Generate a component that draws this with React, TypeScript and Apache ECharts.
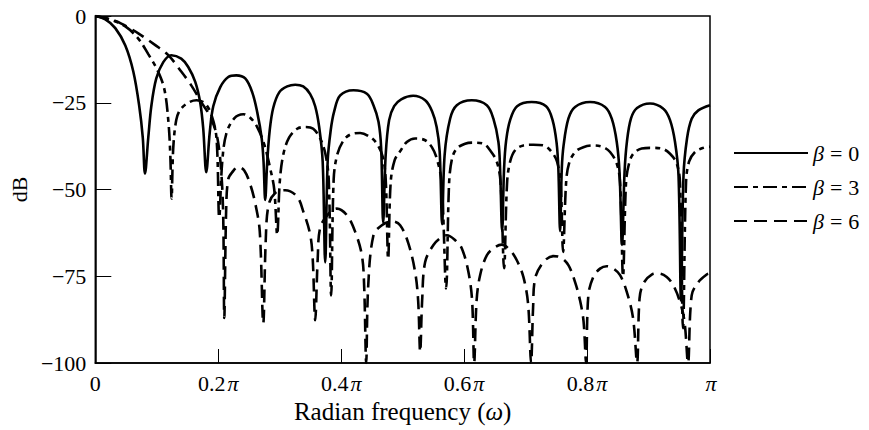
import React, { useEffect, useRef } from 'react';
import * as echarts from 'echarts';

// Log-magnitude responses of three Kaiser windows (frequency in units of π, magnitude in dB)

// β = 0 (rectangular)
const beta0Freq = [
  0, 0.0163, 0.0325, 0.0488, 0.0618, 0.0715, 0.0772, 0.0808,
  0.0862, 0.0911, 0.0992, 0.1106, 0.1236, 0.1398, 0.1512, 0.1626, 0.1707, 0.1756, 0.1805,
  0.1862, 0.1919, 0.2033, 0.2163, 0.2293, 0.2439, 0.2553, 0.2634, 0.2707, 0.2737, 0.2764,
  0.2797, 0.2837, 0.2894, 0.2992, 0.3122, 0.3252, 0.3382, 0.3496, 0.3577, 0.3642, 0.3699, 0.374,
  0.378, 0.3829, 0.3886, 0.3984, 0.42, 0.4418, 0.4525, 0.4607, 0.465, 0.4683,
  0.4724, 0.478, 0.4862, 0.4976, 0.5171, 0.5366, 0.548, 0.5553, 0.5602, 0.5642,
  0.5683, 0.5772, 0.5881, 0.6125, 0.6369, 0.6476, 0.6558, 0.6585, 0.6618,
  0.665, 0.6683, 0.6748, 0.6862, 0.7098, 0.7333, 0.7439, 0.7504, 0.7533, 0.7561,
  0.7589, 0.7618, 0.7696, 0.7805, 0.8049, 0.8293, 0.8402, 0.8483, 0.8528, 0.8569,
  0.861, 0.865, 0.8715, 0.8813, 0.9024, 0.9241, 0.935, 0.9431, 0.9488, 0.9528,
  0.9569, 0.9626, 0.9702, 0.981, 1,
];
const beta0Db = [
  0, -1, -3.5, -8.5, -16, -26, -35, -45.4,
  -35, -26, -18, -13.3, -11.3, -12.3, -14.7, -19, -25, -32.5, -45,
  -33.5, -26, -20.5, -17.6, -17.1, -18, -22, -27.7, -35.3, -42, -53,
  -42, -33, -26.5, -22, -20.3, -19.8, -20.3, -22.5, -26, -32, -42, -71,
  -42, -33, -27.5, -22.9, -21.4, -22.4, -25.7, -30.5, -38, -59.5,
  -40, -30, -26, -24, -23, -24.3, -27.5, -32, -39, -60,
  -40, -29.6, -25.7, -24.3, -25.7, -29.6, -36.3, -44, -62,
  -44, -36, -30, -26, -24.8, -26, -30, -36.5, -44, -62,
  -44, -37.3, -29.6, -26.2, -24.8, -26.2, -29.6, -36.3, -45, -66,
  -45, -36, -29.5, -26.5, -25.2, -26.7, -30, -36.3, -46, -82,
  -46, -35.3, -29.6, -27.2, -25.7,
];

// β = 3
const beta3Freq = [
  0, 0.0244, 0.0488, 0.0699, 0.0862, 0.1008, 0.1122, 0.1187, 0.122, 0.1241,
  0.1268, 0.1317, 0.1382, 0.1512, 0.1647, 0.1784, 0.1891, 0.1972, 0.2016,
  0.2065, 0.213, 0.226, 0.2407, 0.252, 0.2634, 0.2748, 0.2846, 0.2911, 0.2959,
  0.3, 0.3057, 0.3154, 0.3285, 0.3415, 0.3545, 0.3659, 0.374, 0.3797, 0.3837,
  0.3878, 0.3935, 0.4033, 0.4146, 0.4309, 0.4472, 0.458, 0.4675, 0.4724, 0.4764,
  0.4805, 0.487, 0.4959, 0.5068, 0.5203, 0.5366, 0.5475, 0.5556, 0.5634, 0.5707,
  0.5756, 0.5805, 0.5881, 0.6016, 0.6151, 0.6314, 0.6423, 0.6532, 0.6593, 0.665,
  0.6699, 0.6748, 0.6829, 0.6964, 0.7127, 0.729, 0.7426, 0.7512, 0.7569, 0.761,
  0.7659, 0.7707, 0.7805, 0.794, 0.8102, 0.8265, 0.8374, 0.8483, 0.8537, 0.8585,
  0.8634, 0.8683, 0.8753, 0.8889, 0.9052, 0.9215, 0.935, 0.9458, 0.9512, 0.9561,
  0.961, 0.9659, 0.9756, 0.9891, 1,
];
const beta3Db = [
  0, -1, -3, -6.5, -11, -15.5, -21, -30, -40, -52.6,
  -38, -30, -27, -25, -24.3, -25.2, -28.6, -35.3, -58,
  -42, -34, -29.5, -28.3, -29.3, -32, -37, -44, -50, -63,
  -48, -40, -35, -32.5, -32, -32.5, -35.3, -39.5, -47, -80.5,
  -47, -40, -36, -34.2, -33.7, -34.9, -36.8, -40.5, -47, -70,
  -48, -41.5, -39, -36.3, -35.3, -35.8, -37.8, -41.1, -48, -78.5,
  -48, -41, -38.2, -36.8, -36.5, -36.8, -38.7, -42, -48, -72.7,
  -48, -42, -38.7, -37.3, -37.1, -37.3, -39.2, -42, -48, -68,
  -48, -42.5, -39.2, -37.8, -37.3, -37.8, -39.2, -42.5, -48, -75,
  -48, -42.5, -39.7, -38.2, -38, -38.2, -39.7, -42.5, -48, -90,
  -48, -42, -39.2, -38, -37.7,
];

// β = 6
const beta6Freq = [
  0, 0.0211, 0.0423, 0.0699, 0.0976, 0.1187, 0.1398, 0.1561, 0.1724, 0.187, 0.1984, 0.2049, 0.2081, 0.2098,
  0.213, 0.2163, 0.2228, 0.2325, 0.2423, 0.252, 0.2602, 0.2675, 0.2732,
  0.2772, 0.2818, 0.2927, 0.3089, 0.328, 0.3387, 0.3496, 0.3537, 0.3577,
  0.3618, 0.3659, 0.3793, 0.393, 0.4093, 0.4228, 0.4337, 0.4374, 0.4407,
  0.4439, 0.4525, 0.4662, 0.4829, 0.4959, 0.5094, 0.5203, 0.5252, 0.5285,
  0.5317, 0.5366, 0.5501, 0.5637, 0.5719, 0.5854, 0.5963, 0.607, 0.613, 0.6163,
  0.6203, 0.626, 0.6369, 0.6504, 0.6613, 0.6748, 0.6857, 0.6964, 0.7041, 0.7089,
  0.7122, 0.7154, 0.729, 0.7452, 0.7561, 0.7696, 0.7805, 0.7886, 0.7943, 0.7984,
  0.8021, 0.8102, 0.8211, 0.832, 0.8428, 0.8537, 0.8646, 0.8748, 0.8813,
  0.8854, 0.8916, 0.9052, 0.9159, 0.9296, 0.9403, 0.9512, 0.9585, 0.9642,
  0.9702, 0.981, 0.9946, 1,
];
const beta6Db = [
  0, -0.8, -2.2, -5, -8.4, -11.3, -16, -20, -24.8, -29, -35, -45, -58, -87,
  -55, -47, -45, -43.5, -44.5, -48.5, -54, -62, -88.6,
  -65, -54.5, -51, -50.2, -52, -56.5, -63, -70, -87.7,
  -70, -61, -57, -55.5, -57.4, -62.2, -69, -78, -100,
  -78, -63.2, -60.3, -59.2, -60.3, -65.6, -73.8, -82, -96.8,
  -82, -70.9, -66, -63.7, -63.2, -64.6, -67, -73.8, -82, -100,
  -82, -74.7, -69, -66.6, -65.9, -67.5, -70.4, -75.2, -83, -100,
  -84, -75.7, -70.9, -69.2, -69.5, -71.8, -76.7, -82, -88, -100,
  -80.5, -75.2, -72.8, -72.1, -72.8, -74.7, -79.5, -87, -100,
  -81.4, -77.1, -74.5, -74.2, -75.2, -77.6, -82.4, -88, -100,
  -80.5, -76.7, -74.5, -74.2,
];

const seriesNames = ['β = 0', 'β = 3', 'β = 6'];
const xTicks = [0, 0.2, 0.4, 0.6, 0.8, 1];
const xTickLabels = ['0', '0.2{p|π}', '0.4{p|π}', '0.6{p|π}', '0.8{p|π}', '{p|π}'];
const yTickLabels: Record<string, string> = { '0': '0', '-25': '−25', '-50': '−50', '-75': '−75', '-100': '−100' };

const serif = '"Liberation Serif", "Times New Roman", Times, serif';
const fontSize = 22;
const titleSize = 25;

const zip = (xs: number[], ys: number[]) => xs.map((x, i) => [x, ys[i]]);

export default function App() {
  const ref = useRef<HTMLDivElement>(null);

  useEffect(() => {
    document.body.style.margin = '0';
    const chart = echarts.init(ref.current!, null, { renderer: 'svg' });

    const lineBase = { color: '#000', width: 2.6 };
    const styles: any[] = [
      { ...lineBase, type: 'solid' },
      { ...lineBase, type: [14, 5, 5, 5] },
      { ...lineBase, type: [13, 7] },
    ];
    const datasets = [
      zip(beta0Freq, beta0Db),
      zip(beta3Freq, beta3Db),
      zip(beta6Freq, beta6Db),
    ];
    const italic = { fontStyle: 'italic', fontFamily: serif, fontSize, color: '#000' };

    chart.setOption({
      animation: false,
      backgroundColor: '#fff',
      grid: {
        left: 95,
        right: 159,
        top: 16,
        bottom: 67,
        show: true,
        borderColor: '#000',
        borderWidth: 1.5,
        backgroundColor: 'transparent',
      },
      legend: {
        orient: 'vertical',
        left: 733,
        top: 142,
        padding: 0,
        itemWidth: 74,
        itemHeight: 14,
        itemGap: 12,
        selectedMode: false,
        data: seriesNames,
        itemStyle: { opacity: 0 },
        formatter: (name: string) => name.replace('β = ', '{i|β}{e|=}'),
        textStyle: {
          color: '#000',
          fontFamily: serif,
          fontSize,
          rich: {
            i: italic,
            e: { fontFamily: serif, fontSize, color: '#000', padding: [0, 6, 0, 6] },
          },
        },
      },
      xAxis: {
        type: 'value',
        position: 'bottom',
        min: 0,
        max: 1,
        interval: 0.2,
        name: 'Radian frequency ({i|ω})',
        nameLocation: 'middle',
        nameGap: 30,
        nameTextStyle: {
          color: '#000',
          fontFamily: serif,
          fontSize: titleSize,
          rich: { i: { ...italic, fontSize: titleSize } },
        },
        axisLine: { show: true, onZero: false, lineStyle: { color: '#000', width: 1.5 } },
        axisTick: { show: true, inside: true, length: 14, lineStyle: { color: '#000', width: 1 } },
        splitLine: { show: false },
        axisLabel: {
          margin: 9,
          color: '#000',
          fontFamily: serif,
          fontSize,
          formatter: (v: number) => {
            const i = xTicks.findIndex((t) => Math.abs(t - v) < 1e-6);
            return i >= 0 ? xTickLabels[i] : '';
          },
          rich: { p: { ...italic, padding: [0, 0, 0, 2] } },
        },
      },
      yAxis: {
        type: 'value',
        position: 'left',
        min: -100,
        max: 0,
        interval: 25,
        name: 'dB',
        nameLocation: 'middle',
        nameGap: 48,
        nameRotate: 90,
        nameTextStyle: { color: '#000', fontFamily: serif, fontSize },
        axisLine: { show: true, onZero: false, lineStyle: { color: '#000', width: 1.5 } },
        axisTick: { show: true, inside: true, length: 16, lineStyle: { color: '#000', width: 1 } },
        splitLine: { show: false },
        axisLabel: {
          margin: 9,
          color: '#000',
          fontFamily: serif,
          fontSize,
          formatter: (v: number) => yTickLabels[String(Math.round(v))] ?? '',
        },
      },
      series: seriesNames.map((name, i) => ({
        name,
        type: 'line',
        data: datasets[i],
        symbol: 'none',
        showSymbol: false,
        smooth: 0.35,
        clip: true,
        silent: true,
        color: '#000',
        lineStyle: styles[i],
        z: 3 - i,
      })),
    });

    return () => chart.dispose();
  }, []);

  return <div ref={ref} style={{ width: 869, height: 430, background: '#fff' }} />;
}
